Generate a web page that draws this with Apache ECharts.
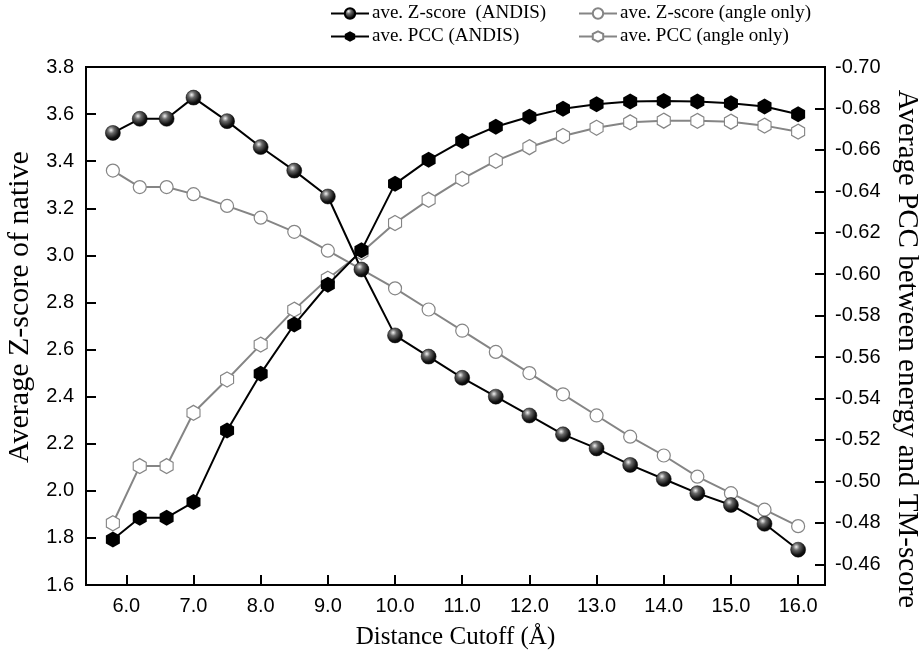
<!DOCTYPE html>
<html>
<head>
<meta charset="utf-8">
<script src="https://cdn.jsdelivr.net/npm/echarts@6/dist/echarts.min.js"></script>
<style>
html,body{margin:0;padding:0;background:#fff;}
#chart{width:921px;height:656px;}
</style>
</head>
<body>
<div id="chart"></div>
<script>
// ---- data ----
var distances = [5.8, 6.2, 6.6, 7.0, 7.5, 8.0, 8.5, 9.0, 9.5, 10.0, 10.5, 11.0, 11.5, 12.0, 12.5, 13.0, 13.5, 14.0, 14.5, 15.0, 15.5, 16.0];
var zAndis  = [3.52, 3.58, 3.58, 3.67, 3.57, 3.46, 3.36, 3.25, 2.94, 2.66, 2.57, 2.48, 2.40, 2.32, 2.24, 2.18, 2.11, 2.05, 1.99, 1.94, 1.86, 1.75];
var zAngle  = [3.36, 3.29, 3.29, 3.26, 3.21, 3.16, 3.10, 3.02, 2.94, 2.86, 2.77, 2.68, 2.59, 2.50, 2.41, 2.32, 2.23, 2.15, 2.06, 1.99, 1.92, 1.85];
var pccAndis = [-0.472, -0.4825, -0.4825, -0.490, -0.5246, -0.552, -0.5757, -0.5949, -0.6115, -0.6436, -0.6552, -0.6643, -0.6712, -0.676, -0.6798, -0.682, -0.6833, -0.6836, -0.6833, -0.6825, -0.6809, -0.6772];
var pccAngle = [-0.4798, -0.5074, -0.5074, -0.5331, -0.5492, -0.566, -0.5829, -0.5978, -0.6105, -0.6247, -0.6359, -0.646, -0.6547, -0.6613, -0.6667, -0.6707, -0.6733, -0.6741, -0.674, -0.6736, -0.6717, -0.6688];
var seriesNames = ['ave. Z-score  (ANDIS)', 'ave. Z-score (angle only)', 'ave. PCC (ANDIS)', 'ave. PCC (angle only)'];
var xTitle = 'Distance Cutoff (\u00C5)';
var yLeftTitle = 'Average Z-score of native';
var yRightTitle = 'Average PCC between energy and TM-score';

function pairs(xs, ys) { return xs.map(function (x, i) { return [x, ys[i]]; }); }

var hexPath = 'path://M0,-1 L0.866,-0.5 L0.866,0.5 L0,1 L-0.866,0.5 L-0.866,-0.5 Z';
var sphere = {
  type: 'radial', x: 0.38, y: 0.32, r: 0.75,
  colorStops: [{offset: 0, color: '#f2f2f2'}, {offset: 0.28, color: '#6a6a6a'}, {offset: 0.7, color: '#111'}, {offset: 1, color: '#000'}]
};
var grey = '#858585';
var serif = 'Liberation Serif';
var sans = 'Liberation Sans';

var chart = echarts.init(document.getElementById('chart'), null, {renderer: 'canvas'});

function legendAt(name, left, top) {
  return {
    data: [name], left: left, top: top, itemWidth: 38, itemHeight: 13, itemGap: 0,
    padding: 0, selectedMode: false,
    textStyle: {fontFamily: serif, fontSize: 19, color: '#000', padding: [0, 0, 0, -2]}
  };
}

var option = {
  backgroundColor: '#fff',
  animation: false,
  legend: [
    legendAt(seriesNames[0], 330, 4),
    legendAt(seriesNames[1], 578, 4),
    legendAt(seriesNames[2], 330, 27),
    legendAt(seriesNames[3], 578, 27)
  ],
  grid: {left: 86, right: 96, top: 67, bottom: 71, containLabel: false, outerBoundsMode: 'none',
    show: true, borderColor: '#000', borderWidth: 2, backgroundColor: 'transparent'},
  xAxis: {
    type: 'value', min: 5.4, max: 16.4, splitNumber: 10,
    name: xTitle, nameLocation: 'middle', nameGap: 40,
    nameTextStyle: {fontFamily: serif, fontSize: 25, color: '#000'},
    axisLine: {show: true, onZero: false, lineStyle: {color: '#000', width: 2}},
    axisTick: {show: true, inside: true, length: 10, lineStyle: {color: '#000', width: 2}},
    axisLabel: {
      fontFamily: sans, fontSize: 20, color: '#000', margin: 11,
      showMinLabel: false, showMaxLabel: false,
      formatter: function (v) { return Math.abs(v - Math.round(v)) < 1e-6 ? v.toFixed(1) : ''; }
    },
    splitLine: {show: false}
  },
  yAxis: [{
    type: 'value', min: 1.6, max: 3.8, interval: 0.2, position: 'left',
    name: yLeftTitle, nameLocation: 'middle', nameGap: 44, nameRotate: 90,
    nameTextStyle: {fontFamily: serif, fontSize: 30, color: '#000', padding: [0, 0, 0, 38]},
    axisLine: {show: true, lineStyle: {color: '#000', width: 2}},
    axisTick: {show: true, inside: true, length: 10, lineStyle: {color: '#000', width: 2}},
    axisLabel: {fontFamily: sans, fontSize: 20, color: '#000', margin: 12, formatter: function (v) { return v.toFixed(1); }},
    splitLine: {show: false}
  }, {
    type: 'value', min: -0.70, max: -0.45, interval: 0.02, inverse: true, position: 'right',
    name: yRightTitle, nameLocation: 'middle', nameGap: 67, nameRotate: -90,
    nameTextStyle: {fontFamily: serif, fontSize: 29, color: '#000', padding: [0, 0, 0, 46]},
    axisLine: {show: true, lineStyle: {color: '#000', width: 2}},
    axisTick: {show: true, inside: true, length: 10, lineStyle: {color: '#000', width: 2}},
    axisLabel: {fontFamily: sans, fontSize: 20, color: '#000', margin: 10, showMaxLabel: false,
      formatter: function (v) { return v.toFixed(2); }},
    splitLine: {show: false}
  }],
  series: [{
    name: seriesNames[1], type: 'line', yAxisIndex: 0, data: pairs(distances, zAngle),
    symbol: 'circle', symbolSize: 13,
    lineStyle: {color: grey, width: 2},
    itemStyle: {color: '#fff', borderColor: grey, borderWidth: 1.2},
    z: 2
  }, {
    name: seriesNames[3], type: 'line', yAxisIndex: 1, data: pairs(distances, pccAngle),
    symbol: hexPath, symbolSize: [13, 15], symbolKeepAspect: false,
    lineStyle: {color: grey, width: 2},
    itemStyle: {color: '#fff', borderColor: grey, borderWidth: 1.2},
    z: 2
  }, {
    name: seriesNames[0], type: 'line', yAxisIndex: 0, data: pairs(distances, zAndis),
    symbol: 'circle', symbolSize: 15,
    lineStyle: {color: '#000', width: 2},
    itemStyle: {color: sphere, borderColor: '#000', borderWidth: 0.5},
    z: 3
  }, {
    name: seriesNames[2], type: 'line', yAxisIndex: 1, data: pairs(distances, pccAndis),
    symbol: hexPath, symbolSize: [14, 16], symbolKeepAspect: false,
    lineStyle: {color: '#000', width: 2},
    itemStyle: {color: '#000', borderColor: '#000', borderWidth: 0},
    z: 3
  }]
};
chart.setOption(option);
</script>
</body>
</html>
